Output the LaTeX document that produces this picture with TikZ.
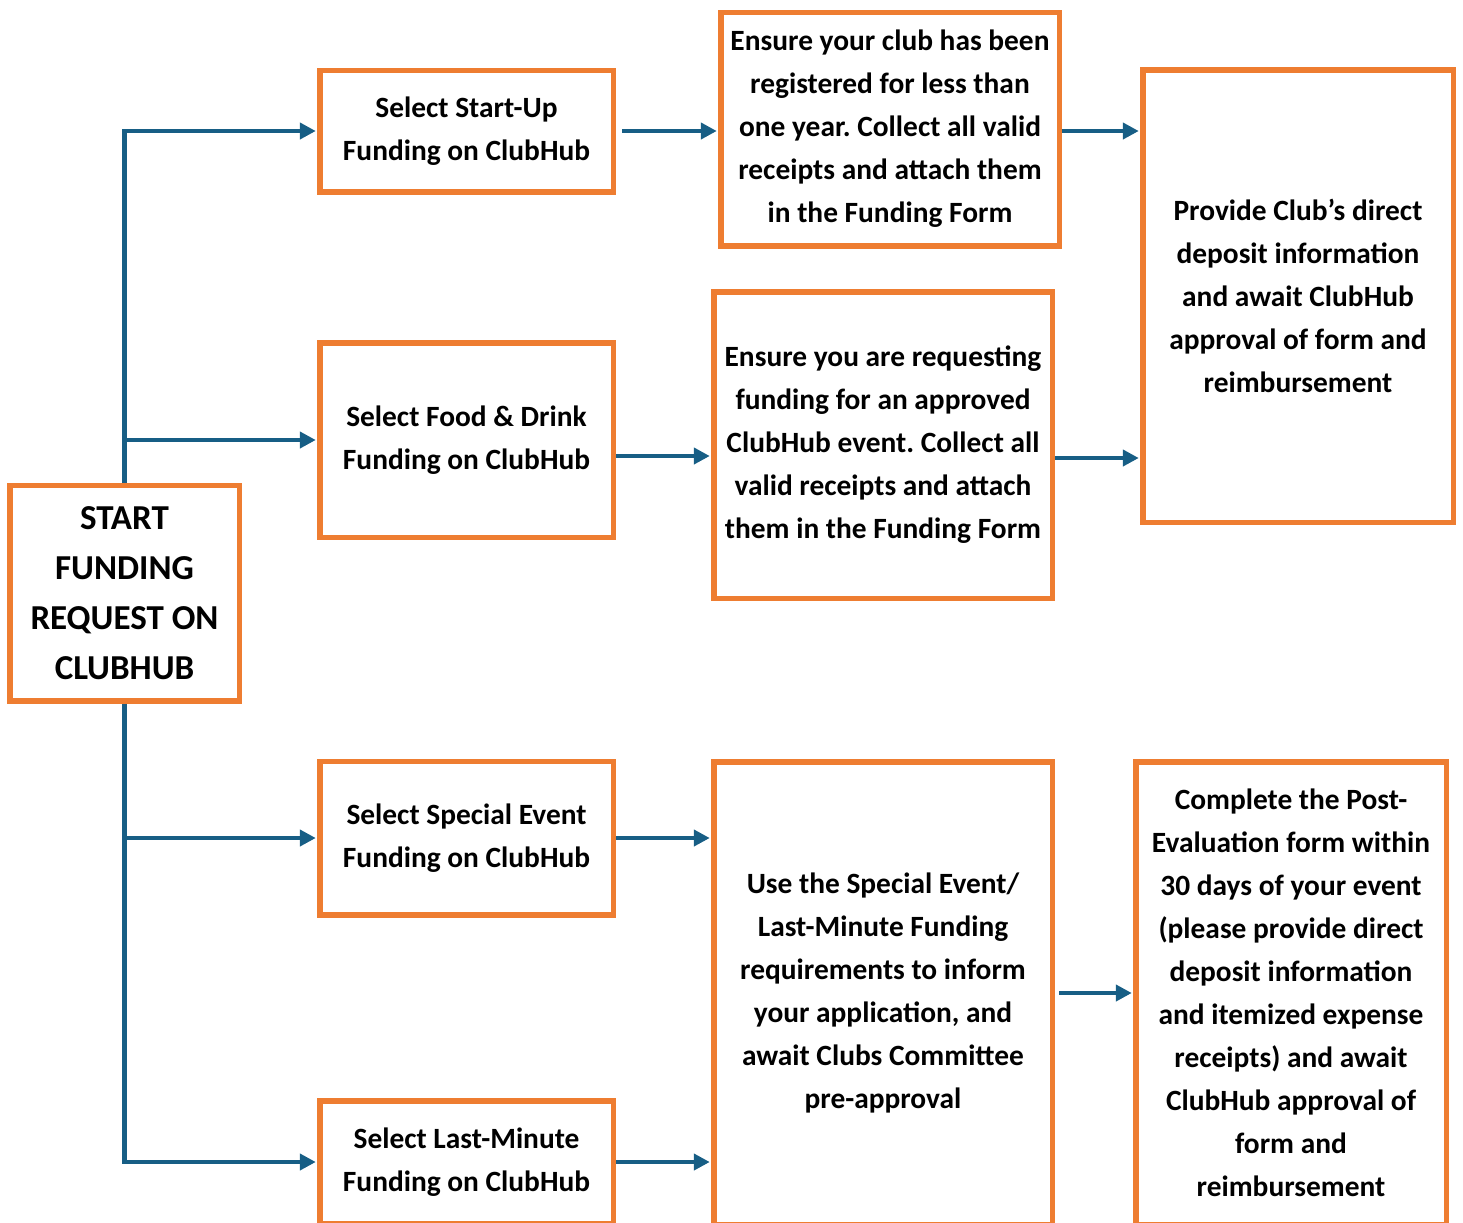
\documentclass[tikz,border=0pt]{standalone}
\usepackage{fontspec}
\setmainfont{Carlito}
\usetikzlibrary{arrows.meta}
\definecolor{boxorange}{HTML}{EE7D31}
\definecolor{flowblue}{HTML}{175E85}
\frenchspacing
\begin{document}
\begin{tikzpicture}[x=0.5pt,y=-0.5pt,
    box/.style={draw=boxorange,line width=2.75pt,align=center,inner sep=0pt,
      font=\bfseries\fontsize{14.7}{21.5}\selectfont},
    flow/.style={draw=flowblue,line width=2.2pt,-{Triangle[length=8pt,width=8pt]},shorten >=0.6pt}]
    \clip (0,0) rectangle (1463,1222);
    % boxes
    \node[box,minimum width=114.75pt,minimum height=107.75pt,font=\bfseries\fontsize{17.5}{25}\selectfont] (start) at (124.5,593) {START\\FUNDING\\REQUEST ON\\CLUBHUB};
    \node[box,minimum width=146.75pt,minimum height=60.75pt] (startup) at (466.5,131) {Select Start-Up\\Funding on ClubHub};
    \node[box,minimum width=146.75pt,minimum height=97.25pt] (food) at (466.5,440) {Select Food \& Drink\\Funding on ClubHub};
    \node[box,minimum width=146.75pt,minimum height=76.75pt] (special) at (466.5,838) {Select Special Event\\Funding on ClubHub};
    \node[box,minimum width=146.75pt,minimum height=61.25pt] (lastmin) at (466.5,1162) {Select Last-Minute\\Funding on ClubHub};
    \node[box,minimum width=169.25pt,minimum height=116.75pt] (club) at (890,129) {Ensure your club has been\\registered for less than\\one year. Collect all valid\\receipts and attach them\\in the Funding Form};
    \node[box,minimum width=169.25pt,minimum height=153.25pt] (req) at (883,445) {Ensure you are requesting\\funding for an approved\\ClubHub event. Collect all\\valid receipts and attach\\them in the Funding Form};
    \node[box,minimum width=155.25pt,minimum height=226.25pt] (provide) at (1298,296) {Provide Club’s direct\\deposit information\\and await ClubHub\\approval of form and\\reimbursement};
    \node[box,minimum width=169.25pt,minimum height=231.25pt] (use) at (883,993) {Use the Special Event/\\Last-Minute Funding\\requirements to inform\\your application, and\\await Clubs Committee\\pre-approval};
    \node[box,minimum width=155.25pt,minimum height=231.25pt] (complete) at (1291,993) {Complete the Post-\\Evaluation form within\\30 days of your event\\(please provide direct\\deposit information\\and itemized expense\\receipts) and await\\ClubHub approval of\\form and\\reimbursement};
    % connectors
    \draw[flow] (start.north) |- (startup.west);
    \draw[flow] (start.north |- food.west) -- (food.west);
    \draw[flow] (start.south) |- (lastmin.west);
    \draw[flow] (start.south |- special.west) -- (special.west);
    \draw[flow,shorten <=3pt] (startup.east) -- (club.west |- startup.east);
    \coordinate (foodout) at (616,456);
    \draw[flow] (foodout) -- (foodout -| req.west);
    \draw[flow] (club.east |- startup.east) -- (provide.west |- startup.east);
    \coordinate (reqout) at (1055,458);
    \draw[flow] (reqout) -- (reqout -| provide.west);
    \draw[flow] (special.east) -- (special.east -| use.west);
    \draw[flow] (lastmin.east) -- (lastmin.east -| use.west);
    \draw[flow,shorten <=2pt] (use.east) -- (complete.west);
\end{tikzpicture}
\end{document}
